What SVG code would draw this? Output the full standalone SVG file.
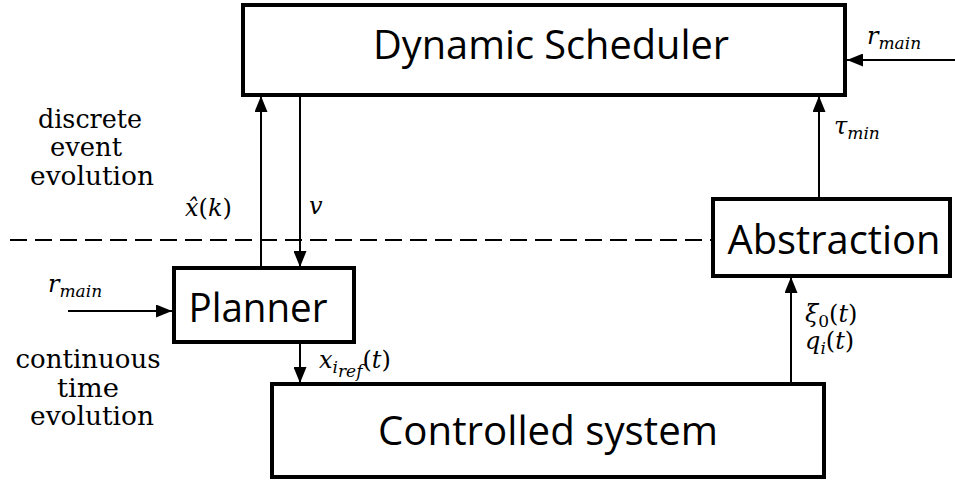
<svg xmlns="http://www.w3.org/2000/svg" width="955" height="481" viewBox="0 0 955 481">
<style>
.box{fill:#fff;stroke:#000;stroke-width:4}
.lbl{font-family:"Open Sans","Liberation Sans",sans-serif;font-size:40px;fill:#000}
.conn{stroke:#000;stroke-width:2;fill:none}
.math{font-family:"DejaVu Serif","Liberation Serif",serif;font-size:24px;fill:#000}
.it{font-style:italic}
.sub{font-size:17px;font-style:italic}
.txt{font-family:"DejaVu Serif","Liberation Serif",serif;font-size:26px;fill:#000;text-anchor:middle}
</style>
<defs>
<marker id="ah" viewBox="0 0 16 13" refX="16" refY="6.5" markerWidth="16" markerHeight="13" markerUnits="userSpaceOnUse" orient="auto">
<path d="M0,0 L16,6.5 L0,13 Z" fill="#000"/>
</marker>
</defs>
<g id="region-labels">
<text class="txt" x="90" y="128" textLength="104" lengthAdjust="spacingAndGlyphs">discrete</text>
<text class="txt" x="86" y="156" textLength="72" lengthAdjust="spacingAndGlyphs">event</text>
<text class="txt" x="92" y="185" textLength="124" lengthAdjust="spacingAndGlyphs">evolution</text>
<text class="txt" x="88" y="368" textLength="145" lengthAdjust="spacingAndGlyphs">continuous</text>
<text class="txt" x="88" y="397" textLength="62" lengthAdjust="spacingAndGlyphs">time</text>
<text class="txt" x="92" y="425" textLength="124" lengthAdjust="spacingAndGlyphs">evolution</text>
</g>
<g id="connectors">
<line x1="10" y1="240" x2="713" y2="240" stroke="#000" stroke-width="2" stroke-dasharray="17,8"/>
<line class="conn" x1="955" y1="60" x2="847" y2="60" marker-end="url(#ah)"/>
<line class="conn" x1="819" y1="199" x2="819" y2="96" marker-end="url(#ah)"/>
<line class="conn" x1="261" y1="268" x2="261" y2="96" marker-end="url(#ah)"/>
<line class="conn" x1="300" y1="95" x2="300" y2="267" marker-end="url(#ah)"/>
<line class="conn" x1="68" y1="311" x2="172" y2="311" marker-end="url(#ah)"/>
<line class="conn" x1="300" y1="342" x2="300" y2="383" marker-end="url(#ah)"/>
<line class="conn" x1="791" y1="384" x2="791" y2="277" marker-end="url(#ah)"/>
</g>
<g id="edge-labels">
<text class="math" x="867" y="44"><tspan class="it">r</tspan><tspan class="sub" dy="5">main</tspan></text>
<text class="math" x="834" y="134"><tspan class="it">τ</tspan><tspan class="sub" dy="5">min</tspan></text>
<text class="math" x="185" y="216"><tspan class="it">x&#770;</tspan><tspan>(</tspan><tspan class="it">k</tspan><tspan>)</tspan></text>
<text class="math it" x="309" y="214">v</text>
<text class="math" x="48" y="292"><tspan class="it">r</tspan><tspan class="sub" dy="5">main</tspan></text>
<text class="math" x="319" y="368"><tspan class="it">x</tspan><tspan class="sub" dy="5">i</tspan><tspan class="sub" dy="4" font-size="13">ref</tspan><tspan dy="-9">(</tspan><tspan class="it">t</tspan><tspan>)</tspan></text>
<text class="math" x="805" y="322"><tspan class="it">ξ</tspan><tspan font-size="17" dy="5">0</tspan><tspan dy="-5">(</tspan><tspan class="it">t</tspan><tspan>)</tspan></text>
<text class="math" x="805" y="349"><tspan class="it">q</tspan><tspan class="sub" dy="5">i</tspan><tspan dy="-5">(</tspan><tspan class="it">t</tspan><tspan>)</tspan></text>
</g>
<g id="dynamic-scheduler">
<rect class="box" x="243" y="5" width="602" height="90"/>
<text class="lbl" x="551" y="59" text-anchor="middle" font-size="37" textLength="356" lengthAdjust="spacingAndGlyphs">Dynamic Scheduler</text>
</g>
<g id="abstraction">
<rect class="box" x="713" y="199" width="237" height="77"/>
<text class="lbl" x="834" y="254" text-anchor="middle" textLength="213" lengthAdjust="spacingAndGlyphs">Abstraction</text>
</g>
<g id="planner">
<rect class="box" x="174" y="268" width="180" height="74"/>
<text class="lbl" x="258" y="322" text-anchor="middle" textLength="139" lengthAdjust="spacingAndGlyphs">Planner</text>
</g>
<g id="controlled-system">
<rect class="box" x="272" y="384" width="552" height="93"/>
<text class="lbl" x="548" y="445" text-anchor="middle" textLength="340" lengthAdjust="spacingAndGlyphs">Controlled system</text>
</g>
</svg>
